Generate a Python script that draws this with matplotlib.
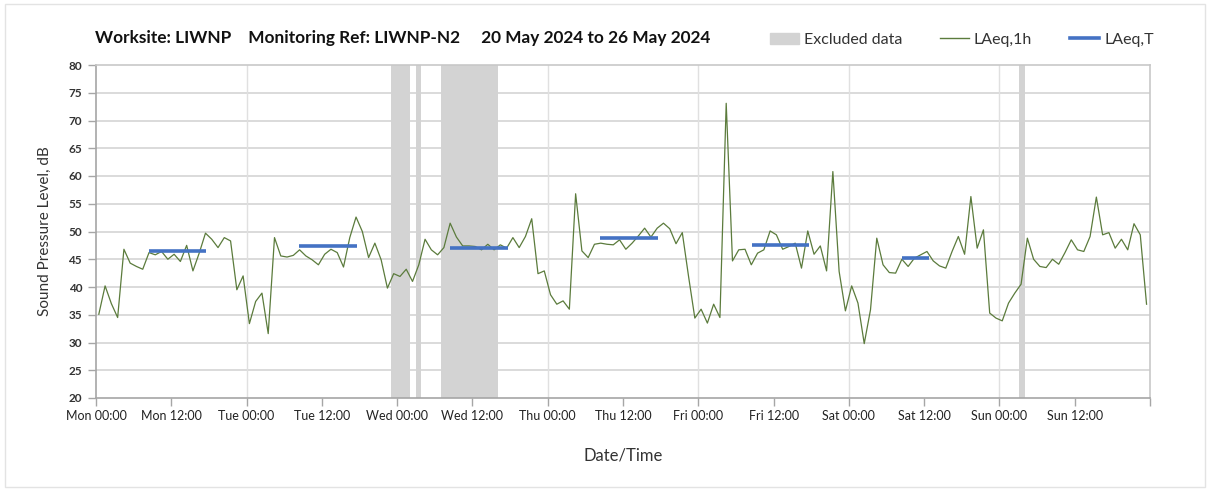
import matplotlib
matplotlib.use("Agg")
from matplotlib import pyplot as plt
from matplotlib.patches import Patch, Rectangle
from matplotlib.lines import Line2D
import numpy as np

plt.rcParams['font.family'] = ['Lato', 'DejaVu Sans']

# hourly LAeq,1h values, Mon 00:00 onwards (dB)
laeq_1h = [35.1, 40.2, 37.0, 34.5, 46.8, 44.3, 43.7, 43.2, 46.2, 45.8, 46.4, 45.0,
           45.9, 44.6, 47.5, 42.9, 46.1, 49.7, 48.6, 47.1, 48.9, 48.3, 39.5, 42.0,
           33.4, 37.4, 38.9, 31.6, 48.9, 45.6, 45.4, 45.7, 46.7, 45.6, 44.9, 44.0,
           45.9, 46.8, 46.2, 43.6, 48.9, 52.6, 50.0, 45.3, 47.9, 44.9, 39.8, 42.4,
           41.9, 43.2, 41.0, 44.0, 48.6, 46.7, 45.8, 47.1, 51.5, 49.0, 47.4, 47.4,
           47.3, 46.7, 47.7, 46.7, 47.6, 47.0, 48.9, 47.1, 49.1, 52.3, 42.4, 42.9,
           38.6, 36.9, 37.5, 36.0, 56.8, 46.5, 45.3, 47.7, 47.9, 47.7, 47.6, 48.5,
           46.8, 47.9, 49.2, 50.6, 49.0, 50.6, 51.5, 50.5, 47.8, 49.8, 41.9, 34.4,
           36.0, 33.5, 36.9, 34.5, 73.1, 44.7, 46.7, 46.8, 44.0, 46.1, 46.7, 50.1,
           49.4, 46.8, 47.3, 47.9, 43.4, 50.1, 45.9, 47.4, 42.9, 60.8, 42.8, 35.7,
           40.2, 37.1, 29.8, 35.9, 48.8, 44.0, 42.6, 42.5, 45.0, 43.7, 45.2, 45.8,
           46.4, 44.7, 43.8, 43.4, 46.4, 49.1, 45.9, 56.3, 47.0, 50.3, 35.3, 34.4,
           33.9, 37.1, 38.9, 40.5, 48.8, 45.0, 43.7, 43.5, 45.0, 44.1, 46.2, 48.5,
           46.7, 46.4, 49.1, 56.2, 49.4, 49.8, 47.0, 48.6, 46.7, 51.4, 49.4, 36.9]
hours = np.arange(len(laeq_1h)) + 0.45

# LAeq,T periods (start hour, end hour, level)
period_start = [8.4, 32.4, 56.4, 80.4, 104.5, 128.5]
period_end = [17.6, 41.6, 65.6, 89.6, 113.7, 132.7]
period_level = [46.5, 47.4, 47.1, 48.8, 47.6, 45.3]

# excluded data (start hour, end hour)
excl_start = [47.0, 51.0, 55.0, 147.1]
excl_end = [50.0, 51.85, 64.0, 148.0]

days = ["Mon", "Tue", "Wed", "Thu", "Fri", "Sat", "Sun"]
tick_labels = []
for d in days:
    tick_labels += [d + " 00:00", d + " 12:00"]

green = "#5b7b3c"
blue = "#4472c4"
grey_span = "#d3d3d3"
axis_col = "#a6a6a6"

fig = plt.figure(figsize=(12.08, 4.92), dpi=100)
ax = fig.add_axes([96/1208, 1-398/492, (1150-96)/1208, (398-65)/492])

for s, e in zip(excl_start, excl_end):
    ax.axvspan(s, e, color=grey_span, lw=0, zorder=1)

ax.plot(hours, laeq_1h, color=green, lw=0.9, zorder=3)
for s, e, v in zip(period_start, period_end, period_level):
    ax.plot([s, e], [v, v], color=blue, lw=2.6, solid_capstyle="butt", zorder=4)

ax.set_xlim(0, 168)
ax.set_ylim(20, 80)
ax.set_yticks(np.arange(20, 81, 5))
ax.set_xticks(np.arange(0, 169, 12))
ax.set_xticklabels(tick_labels + [""], fontsize=9, color="#222222")
ax.tick_params(axis="y", labelsize=8.5, labelcolor="#333333", colors=axis_col, length=6, width=1, pad=4)
ax.tick_params(axis="x", colors=axis_col, labelcolor="#222222", length=6, width=1, pad=3)
for lab in ax.get_yticklabels():
    lab.set_fontweight("bold")
    lab.set_color("#333333")

# gridlines
for y in np.arange(25, 80, 5):
    ax.axhline(y, color="#d4d4d4", lw=1.2, zorder=0)
for x in np.arange(24, 168, 24):
    ax.axvline(x, color="#e0e0e0", lw=1.0, zorder=0)

for sp in ["top", "right"]:
    ax.spines[sp].set_color("#c8c8c8")
    ax.spines[sp].set_linewidth(1.2)
for sp in ["left", "bottom"]:
    ax.spines[sp].set_color(axis_col)
    ax.spines[sp].set_linewidth(1.2)

ax.set_ylabel("Sound Pressure Level, dB", fontsize=11, color="#333333", labelpad=12)
ax.set_xlabel("Date/Time", fontsize=12, color="#333333", labelpad=18)

fig.text(95/1208, 1-38/492,
         "Worksite: LIWNP    Monitoring Ref: LIWNP-N2     20 May 2024 to 26 May 2024",
         fontsize=12.4, fontweight="bold", va="center", ha="left", color="#111111")

handles = [Patch(color=grey_span, label="Excluded data"),
           Line2D([], [], color=green, lw=1, label="LAeq,1h"),
           Line2D([], [], color=blue, lw=2.6, label="LAeq,T")]
fig.legend(handles=handles, loc="center right", bbox_to_anchor=(1168/1208, 1-40/492),
           ncol=3, frameon=False, fontsize=11.5, handlelength=1.8, handletextpad=0.3,
           columnspacing=2.4, labelcolor="#333333")

# outer border of the picture
fig.patches.append(Rectangle((5/1208, 5/492), 1200/1208, 483/492, transform=fig.transFigure,
                             fill=False, edgecolor="#e3e3e3", lw=1))

plt.savefig("out.png", dpi=100)
plt.close()
